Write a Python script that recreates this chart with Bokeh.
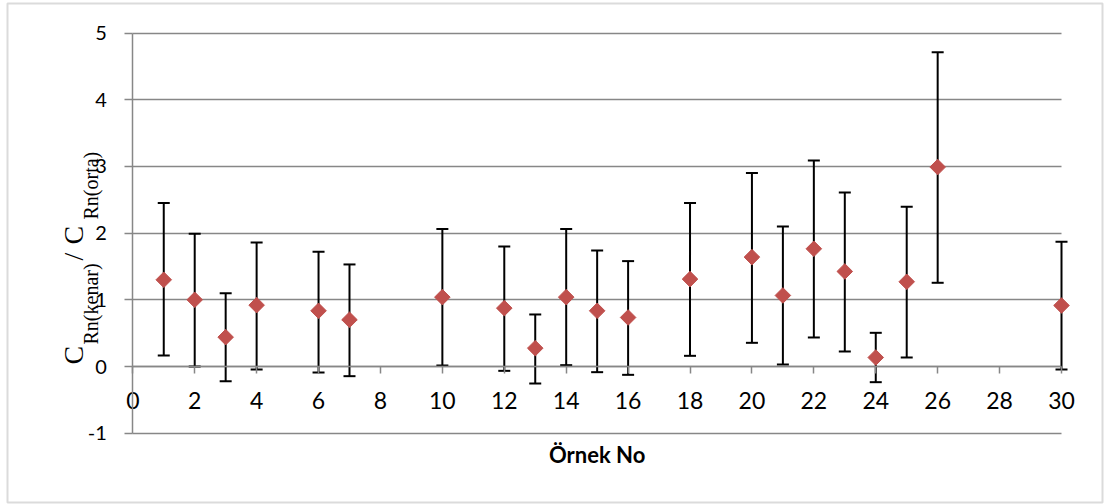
import math
from bokeh.plotting import figure
from bokeh.models import (ColumnDataSource, Whisker, TeeHead, FixedTicker, Label,
                          BoxAnnotation, Range1d, PrintfTickFormatter, Grid)
from bokeh.embed import file_html
from bokeh.resources import INLINE

# ---- data ----
sample_no = [1, 2, 3, 4, 6, 7, 10, 12, 13, 14, 15, 16, 18, 20, 21, 22, 23, 24, 25, 26, 30]
ratio = [1.30, 1.00, 0.44, 0.92, 0.835, 0.70, 1.04, 0.875, 0.275, 1.04, 0.835, 0.735,
         1.31, 1.64, 1.065, 1.765, 1.425, 0.135, 1.27, 2.99, 0.915]
upper = [2.45, 1.99, 1.10, 1.86, 1.72, 1.53, 2.06, 1.80, 0.78, 2.06, 1.74, 1.58,
         2.45, 2.90, 2.10, 3.09, 2.61, 0.505, 2.395, 4.71, 1.87]
lower = [0.165, 0.00, -0.22, -0.045, -0.09, -0.145, 0.015, -0.065, -0.255, 0.02, -0.085, -0.125,
         0.16, 0.355, 0.03, 0.435, 0.225, -0.235, 0.135, 1.255, -0.045]
x_ticks = list(range(0, 31, 2))
y_ticks = [-1, 0, 1, 2, 3, 4, 5]
x_title = "Örnek No"

GRAY = "#878787"
RED = "#C0504D"

# ---- layout: plot area (x 0..30, y -1..5) placed at these canvas pixels ----
W, H = 1104, 504
PX_X0, PX_X1 = 132.3, 1061.0   # canvas x of x=0 and x=30
PX_Y1, PX_Y0 = 32.5, 432.7     # canvas y of y=5 and y=-1
xs = (PX_X1 - PX_X0) / (x_ticks[-1] - x_ticks[0])
ys = (PX_Y0 - PX_Y1) / (y_ticks[-1] - y_ticks[0])
x_range = Range1d(x_ticks[0] - PX_X0 / xs, x_ticks[-1] + (W - PX_X1) / xs)
y_range = Range1d(y_ticks[0] - (H - PX_Y0) / ys, y_ticks[-1] + PX_Y1 / ys)

src = ColumnDataSource(dict(x=sample_no, y=ratio, upper=upper, lower=lower))

p = figure(width=W, height=H, output_backend="svg", toolbar_location=None,
           x_range=x_range, y_range=y_range, min_border=0)
p.title.visible = False
p.outline_line_color = None
p.background_fill_color = "white"
p.border_fill_color = "white"

# grid (horizontal lines limited to x 0..30)
p.xgrid.grid_line_color = None
if "cross_bounds" in Grid.properties():
    p.ygrid.ticker = FixedTicker(ticks=y_ticks)
    p.ygrid.cross_bounds = (x_ticks[0], x_ticks[-1])
    p.ygrid.grid_line_color = GRAY
    p.ygrid.grid_line_width = 1.5
else:
    p.ygrid.grid_line_color = None
    p.segment(x0=[x_ticks[0]] * len(y_ticks), x1=[x_ticks[-1]] * len(y_ticks),
              y0=y_ticks, y1=y_ticks, line_color=GRAY, line_width=1.5, level="underlay")

# y axis at x = 0
p.yaxis.fixed_location = x_ticks[0]
p.yaxis.bounds = (y_ticks[0], y_ticks[-1])
p.yaxis.ticker = FixedTicker(ticks=y_ticks)
p.yaxis.formatter = PrintfTickFormatter(format="%d")
p.yaxis.axis_line_color = GRAY
p.yaxis.axis_line_width = 1.5
p.yaxis.major_tick_line_color = GRAY
p.yaxis.major_tick_line_width = 1.5
p.yaxis.major_tick_out = 8
p.yaxis.major_tick_in = 0
p.yaxis.minor_tick_line_color = None
p.yaxis.major_label_text_font = "Lato"
p.yaxis.major_label_text_font_size = "20px"
p.yaxis.major_label_text_color = "black"
p.yaxis.major_label_standoff = 18

# x axis at y = 0
p.xaxis.fixed_location = 0
p.xaxis.bounds = (x_ticks[0], x_ticks[-1])
p.xaxis.ticker = FixedTicker(ticks=x_ticks)
p.xaxis.formatter = PrintfTickFormatter(format="%d")
p.xaxis.axis_line_color = GRAY
p.xaxis.axis_line_width = 1.5
p.xaxis.major_tick_line_color = GRAY
p.xaxis.major_tick_line_width = 1.5
p.xaxis.major_tick_out = 7
p.xaxis.major_tick_in = 0
p.xaxis.minor_tick_line_color = None
p.xaxis.major_label_text_font = "Lato"
p.xaxis.major_label_text_font_size = "23px"
p.xaxis.major_label_text_color = "black"
p.xaxis.major_label_standoff = 18

# error bars
wh = Whisker(source=src, base="x", upper="upper", lower="lower",
             line_color="black", line_width=2,
             upper_head=TeeHead(size=12, line_color="black", line_width=2),
             lower_head=TeeHead(size=12, line_color="black", line_width=2))
wh.level = "glyph"
p.add_layout(wh)

r = p.scatter("x", "y", source=src, marker="square", angle=math.pi / 4, size=11,
              fill_color=RED, line_color=RED)
r.level = "overlay"

# x title
p.add_layout(Label(x=(PX_X0 + PX_X1) / 2, y=454, x_units="canvas", y_units="canvas",
                   text=x_title, text_align="center", text_baseline="middle",
                   text_font="Lato", text_font_style="bold", text_font_size="22px",
                   text_color="black"))

# y title pieces (rotated, reading upwards)
pieces = [("C", 73, 364, "28px"), ("Rn(kenar)", 90, 344, "20px"),
          ("/", 73, 260, "28px"), ("C", 73, 244, "28px"), ("Rn(orta)", 90, 219, "20px")]
for t, px, py, fs in pieces:
    p.add_layout(Label(x=px, y=py, x_units="canvas", y_units="canvas", text=t,
                       angle=math.pi / 2, text_align="left", text_baseline="middle",
                       text_font="Liberation Serif", text_font_size=fs, text_color="black"))

# outer border
p.add_layout(BoxAnnotation(left=7, right=1102, top=3, bottom=502,
                           left_units="canvas", right_units="canvas",
                           top_units="canvas", bottom_units="canvas",
                           fill_alpha=0, line_color=GRAY, line_width=2, level="overlay"))

open("out.html", "w").write(file_html(p, INLINE))
